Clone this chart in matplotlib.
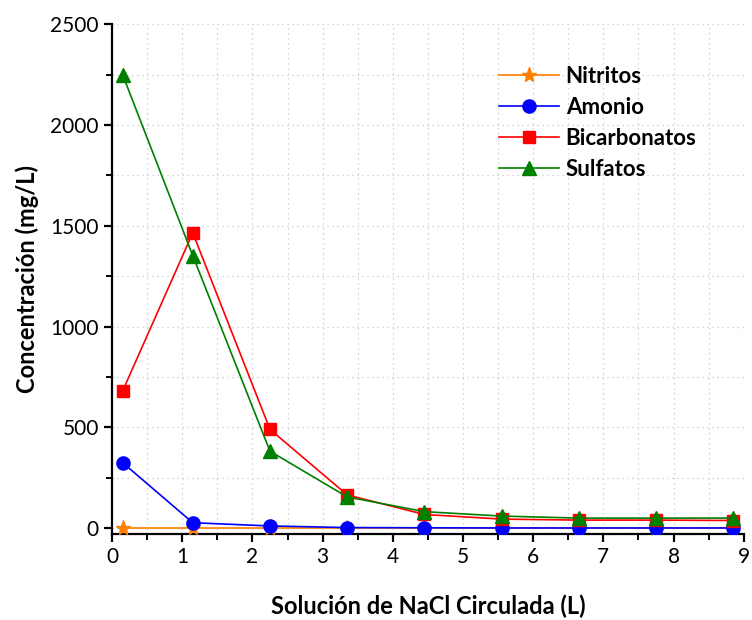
import numpy as np
from matplotlib import pyplot as plt
from matplotlib.ticker import MultipleLocator

# options for plots
plt.rcParams["font.family"] = ["Lato", "DejaVu Sans"]
plt.rcParams["font.size"] = 15
plt.rcParams["axes.linewidth"] = 1.6

# volume of NaCl solution circulated (L)
volumen = [0.15, 1.15, 2.25, 3.35, 4.45, 5.55, 6.65, 7.75, 8.85]

# concentrations (mg/L)
nitritos = [0, 0, 0, 0, 0, 0, 0, 0, 0]
amonio = [325, 27, 11, 3, 2, 1, 1, 1, 1]
bicarbonatos = [680, 1465, 490, 165, 68, 45, 40, 40, 38]
sulfatos = [2250, 1352, 382, 155, 82, 60, 50, 50, 50]

series = [
    ("Nitritos", nitritos, "#ff7f00", "*", 11),
    ("Amonio", amonio, "#0000ff", "o", 9.5),
    ("Bicarbonatos", bicarbonatos, "#ff0000", "s", 8.5),
    ("Sulfatos", sulfatos, "#008000", "^", 9.5),
]

fig = plt.figure(figsize=(7.52, 6.2), dpi=100)
ax = fig.add_axes([0.149, 0.139, 0.840, 0.822])

for name, vals, color, mk, ms in series:
    ax.plot(volumen, vals, color=color, lw=1.2, marker=mk, markersize=ms,
            markerfacecolor=color, markeredgecolor=color, label=name, zorder=3)

ax.set_xlim(0, 9)
ax.set_ylim(-28, 2500)
ax.xaxis.set_major_locator(MultipleLocator(1))
ax.xaxis.set_minor_locator(MultipleLocator(0.5))
ax.yaxis.set_major_locator(MultipleLocator(500))
ax.yaxis.set_minor_locator(MultipleLocator(250))

ax.grid(which="both", color="#c8c8c8", linestyle=(0, (1, 3)), lw=0.9)
ax.set_axisbelow(True)
ax.spines["top"].set_visible(False)
ax.spines["right"].set_visible(False)
ax.tick_params(which="major", direction="out", length=6, width=1.6, labelsize=15)
ax.tick_params(which="minor", direction="out", length=4, width=1.4)

ax.set_xlabel("Solución de NaCl Circulada (L)", fontsize=17, fontweight="bold", labelpad=20)
ax.set_ylabel("Concentración (mg/L)", fontsize=17, fontweight="bold", labelpad=8)

ax.legend(loc="upper left", bbox_to_anchor=(0.595, 0.94), frameon=False, numpoints=1,
          borderpad=0, handlelength=2.7, handletextpad=0.3, labelspacing=0.45,
          prop={"weight": "bold", "size": 16})

plt.savefig("out.png", dpi=100)
